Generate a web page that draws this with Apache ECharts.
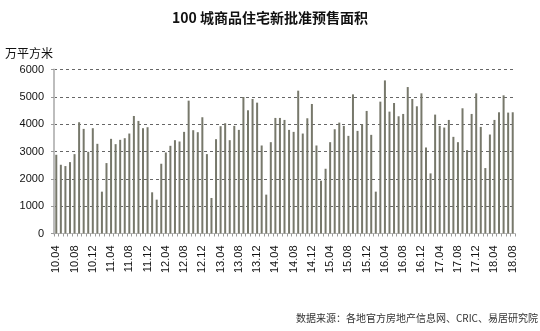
<!DOCTYPE html>
<html>
<head>
<meta charset="utf-8">
<script src="https://cdn.jsdelivr.net/npm/echarts@6/dist/echarts.min.js"></script>
<style>html,body{margin:0;padding:0;background:#fff}#c{width:540px;height:331px}</style>
</head>
<body>
<div id="c"></div>
<script>
// months 2010.04 .. 2018.08
const categories = (function(){
  const out = [];
  for (let y = 10; y <= 18; y++) {
    for (let m = 1; m <= 12; m++) {
      if (y === 10 && m < 4) continue;
      if (y === 18 && m > 8) continue;
      out.push(y + '.' + (m < 10 ? '0' + m : '' + m));
    }
  }
  return out;
})();

const areaValues = [
  2880, 2515, 2467, 2612, 2904, 4070, 3827, 2989, 3852, 3281,
  1531, 2576, 3463, 3269, 3427, 3487, 3657, 4300, 4119, 3852,
  3888, 1507, 1239, 2552, 2965, 3208, 3414, 3366, 3718, 4860,
  3779, 3706, 4253, 2904, 1300, 3451, 3925, 4034, 3414, 3937,
  3791, 4994, 4508, 4921, 4787, 3220, 1422, 3341, 4228, 4228,
  4155, 3791, 3718, 5225, 3657, 4216, 4739, 3220, 1932, 2369,
  3341, 3815, 4058, 3937, 3572, 5091, 3754, 3998, 4484, 3609,
  1531, 4824, 5601, 4459, 4775, 4289, 4374, 5358, 4921, 4654,
  5128, 3147, 2199, 4350, 3937, 3876, 4155, 3536, 3341, 4581,
  3050, 4374, 5128, 3900, 2394, 3621, 4155, 4435, 5055, 4423,
  4435
];

const yTicks = [0, 1000, 2000, 3000, 4000, 5000, 6000];

const chart = echarts.init(document.getElementById('c'), null, {renderer: 'canvas'});
chart.setOption({
  animation: false,
  backgroundColor: '#fff',
  title: {
    text: '100 城商品住宅新批准预售面积',
    left: 'center',
    top: 6,
    textStyle: {fontFamily: '"Noto Sans CJK SC", sans-serif', fontSize: 14, fontWeight: 'bold', color: '#111'}
  },
  graphic: [
    {type: 'text', left: 5, top: 47, style: {text: '万平方米', fontFamily: '"Noto Sans CJK SC", sans-serif', fontSize: 12, fill: '#111'}},
    {type: 'text', right: 2, top: 313, style: {text: '数据来源：各地官方房地产信息网、CRIC、易居研究院', fontFamily: '"Noto Sans CJK SC", sans-serif', fontSize: 10, fill: '#333'}}
  ],
  grid: {left: 54, right: 25, top: 69.5, bottom: 97.5},
  xAxis: {
    type: 'category',
    data: categories,
    boundaryGap: true,
    axisLine: {lineStyle: {color: '#bdbdbd', width: 1}},
    axisTick: {show: true, interval: 0, length: 3, lineStyle: {color: '#9a9a9a'}},
    axisLabel: {
      interval: function(i){ return i % 4 === 0; },
      rotate: 90,
      margin: 12,
      fontFamily: '"Liberation Sans", Arial, sans-serif',
      fontSize: 11,
      color: '#111'
    },
    splitLine: {show: false}
  },
  yAxis: {
    type: 'value',
    min: yTicks[0],
    max: yTicks[yTicks.length - 1],
    interval: 1000,
    axisLine: {show: true, lineStyle: {color: '#bdbdbd', width: 2}},
    axisTick: {show: true, length: 3, lineStyle: {color: '#9a9a9a'}},
    axisLabel: {
      formatter: function(v){ return String(v); },
      fontFamily: '"Liberation Sans", Arial, sans-serif', fontSize: 11, color: '#111', margin: 10
    },
    splitLine: {show: true, lineStyle: {color: '#666', type: [3, 3], width: 1}}
  },
  series: [{
    type: 'bar',
    data: areaValues,
    barWidth: 2,
    itemStyle: {color: '#77786b'}
  }]
});
</script>
</body>
</html>
